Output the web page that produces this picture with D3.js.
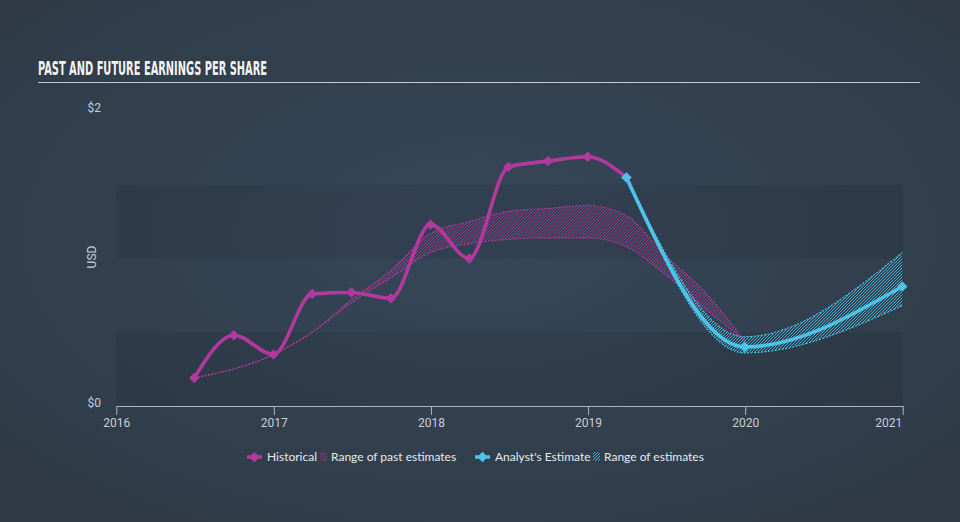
<!DOCTYPE html>
<html><head><meta charset="utf-8">
<script src="https://cdn.jsdelivr.net/npm/d3@7"></script>
<style>html,body{margin:0;padding:0;background:#333f4c;} svg{display:block}</style>
</head><body>
<svg id="chart" width="960" height="522"></svg>
<script>
// ---- data ----
const histDates = ["2016-06-30","2016-09-30","2016-12-31","2017-03-31","2017-06-30","2017-09-30","2017-12-31","2018-03-31","2018-06-30","2018-09-30","2018-12-31","2019-03-31"];
const histEPS   = [0.19,0.48,0.35,0.76,0.77,0.73,1.23,1.00,1.62,1.66,1.69,1.55];
const pastRangeDates = ["2016-06-30","2016-12-31","2017-03-31","2017-06-30","2017-09-30","2017-12-31","2018-03-31","2018-06-30","2018-09-30","2018-12-31","2019-03-31","2019-06-30","2019-09-30","2019-12-31"];
const pastRangeLow  = [0.19,0.35,0.50,0.70,0.87,1.04,1.10,1.13,1.14,1.14,1.08,0.89,0.66,0.44];
const pastRangeHigh = [0.19,0.35,0.50,0.72,0.92,1.17,1.25,1.32,1.34,1.36,1.29,1.02,0.77,0.44];
const estDates = ["2019-03-31","2019-12-31","2020-12-31"];
const estEPS   = [1.55,0.40,0.81];
const estLow   = [1.55,0.36,0.68];
const estHigh  = [1.55,0.47,1.04];
const yTickValues = [0, 2];
const yTickLabels = ["$0", "$2"];
const xTickYears = [2016, 2017, 2018, 2019, 2020, 2021];
const bandEdges = [0, 0.5, 1, 1.5];
const titleText = "PAST AND FUTURE EARNINGS PER SHARE";
const yAxisTitle = "USD";
const legendLabels = ["Historical", "Range of past estimates", "Analyst's Estimate", "Range of estimates"];

const HIST = "#b3399e", EST = "#4dc3ea";
const parse = d3.timeParse("%Y-%m-%d");

const svg = d3.select("#chart");
const defs = svg.append("defs");
const bg = defs.append("radialGradient").attr("id","bg").attr("cx","50%").attr("cy","45%").attr("r","70%");
bg.append("stop").attr("offset","0%").attr("stop-color","#36475a");
bg.append("stop").attr("offset","100%").attr("stop-color","#2f3a45");
svg.append("rect").attr("width",960).attr("height",522).attr("fill","url(#bg)");

function hatch(id, color, op){
  const p = defs.append("pattern").attr("id",id).attr("patternUnits","userSpaceOnUse")
    .attr("width",3).attr("height",3);
  p.append("path").attr("d","M-1,1 l2,-2 M0,3 l3,-3 M2,4 l2,-2")
    .attr("stroke",color).attr("stroke-width",1).attr("stroke-opacity",op).attr("fill","none");
}
hatch("hPast", HIST, 0.75);
hatch("hEst", EST, 0.85);

const x = d3.scaleTime().domain([new Date(2016,0,1), new Date(2021,0,1)]).range([116.3, 902.7]);
const y = d3.scaleLinear().domain([0, 2]).range([406, 111]);

// bands
svg.append("g").selectAll("rect").data(bandEdges.filter((d,i)=>i%2===0)).join("rect")
  .attr("x", x.range()[0]).attr("width", x.range()[1]-x.range()[0])
  .attr("y", d=>y(d+0.5)).attr("height", d=>y(d)-y(d+0.5))
  .attr("fill","#000").attr("opacity",0.075);

// title
svg.append("text").attr("x",38).attr("y",75).text(titleText)
  .attr("font-family","'DejaVu Sans Condensed','DejaVu Sans',sans-serif")
  .attr("font-stretch","condensed").attr("font-weight","bold").attr("font-size",19)
  .attr("fill","#f2f2f2").attr("textLength",229).attr("lengthAdjust","spacingAndGlyphs");
svg.append("line").attr("x1",38).attr("x2",920).attr("y1",82.5).attr("y2",82.5)
  .attr("stroke","#c3c9cf").attr("stroke-width",1.2);

// y labels
svg.append("g").selectAll("text").data(yTickValues).join("text")
  .attr("x",101).attr("y",d=>y(d)+1).attr("text-anchor","end")
  .attr("font-family","Roboto, sans-serif").attr("font-size",12).attr("fill","#c9cfd5")
  .text((d,i)=>yTickLabels[i]);
svg.append("text").attr("transform","translate(96,257) rotate(-90)").attr("text-anchor","middle")
  .attr("font-family","Roboto, sans-serif").attr("font-size",12).attr("fill","#c9cfd5").text(yAxisTitle);

// x axis
const xAxis = d3.axisBottom(x).tickValues(xTickYears.map(yr=>new Date(yr,0,1)))
  .tickFormat(d3.timeFormat("%Y")).tickSize(9).tickSizeOuter(0);
const gx = svg.append("g").attr("transform","translate(0,406)").call(xAxis);
gx.select(".domain").attr("stroke","#aab5c0");
gx.selectAll(".tick line").attr("stroke","#aab5c0");
gx.selectAll(".tick text").attr("fill","#c9cfd5").attr("font-family","Roboto, sans-serif").attr("font-size",12);
gx.selectAll(".tick text").filter((d,i,n)=>i===n.length-1).attr("text-anchor","end").attr("dx",-1);

// past estimates range
const past = pastRangeDates.map((d,i)=>({date:parse(d), lo:pastRangeLow[i], hi:pastRangeHigh[i]}));
const area = d3.area().x(d=>x(d.date)).y0(d=>y(d.lo)).y1(d=>y(d.hi)).curve(d3.curveMonotoneX);
const lineLo = d3.line().x(d=>x(d.date)).y(d=>y(d.lo)).curve(d3.curveMonotoneX);
const lineHi = d3.line().x(d=>x(d.date)).y(d=>y(d.hi)).curve(d3.curveMonotoneX);
svg.append("path").datum(past).attr("d",area).attr("fill","url(#hPast)");
[lineLo,lineHi].forEach(l=>svg.append("path").datum(past).attr("d",l).attr("fill","none")
  .attr("stroke",HIST).attr("stroke-width",1.1).attr("stroke-dasharray","2,1.5"));

// estimate range
const est = estDates.map((d,i)=>({date:parse(d), v:estEPS[i], lo:estLow[i], hi:estHigh[i]}));
svg.append("path").datum(est).attr("d",area).attr("fill","url(#hEst)");
[lineLo,lineHi].forEach(l=>svg.append("path").datum(est).attr("d",l).attr("fill","none")
  .attr("stroke",EST).attr("stroke-width",1.1).attr("stroke-dasharray","2,1.5"));

// lines
const hist = histDates.map((d,i)=>({date:parse(d), v:histEPS[i]}));
const line = d3.line().x(d=>x(d.date)).y(d=>y(d.v)).curve(d3.curveMonotoneX);
svg.append("path").datum(hist).attr("d",line).attr("fill","none").attr("stroke",HIST).attr("stroke-width",3.6);
svg.append("path").datum(est).attr("d",line).attr("fill","none").attr("stroke",EST).attr("stroke-width",3.6);

const diamond = d3.symbol().type(d3.symbolSquare).size(54);
svg.append("g").selectAll("path").data(hist).join("path")
  .attr("d",diamond).attr("transform",d=>`translate(${x(d.date)},${y(d.v)}) rotate(45)`).attr("fill",HIST);
svg.append("g").selectAll("path").data(est).join("path")
  .attr("d",diamond).attr("transform",d=>`translate(${x(d.date)},${y(d.v)}) rotate(45)`).attr("fill",EST);

// legend
const lg = svg.append("g").attr("font-family","Lato, sans-serif").attr("font-size",12).attr("fill","#e6e9ec");
function lgMarker(cx, color){
  lg.append("line").attr("x1",cx-7.5).attr("x2",cx+7.5).attr("y1",457).attr("y2",457).attr("stroke",color).attr("stroke-width",3.5);
  lg.append("path").attr("d",diamond).attr("transform",`translate(${cx},457) rotate(45)`).attr("fill",color);
}
lgMarker(254.5, HIST);
lg.append("text").attr("x",267).attr("y",461).text(legendLabels[0]);
lg.append("rect").attr("x",320).attr("y",452).attr("width",7).attr("height",9).attr("fill","url(#hPast)");
lg.append("text").attr("x",331).attr("y",461).text(legendLabels[1]);
lgMarker(482.5, EST);
lg.append("text").attr("x",495).attr("y",461).text(legendLabels[2]);
lg.append("rect").attr("x",593).attr("y",452).attr("width",7).attr("height",9).attr("fill","url(#hEst)");
lg.append("text").attr("x",604).attr("y",461).text(legendLabels[3]);
</script>
</body></html>
